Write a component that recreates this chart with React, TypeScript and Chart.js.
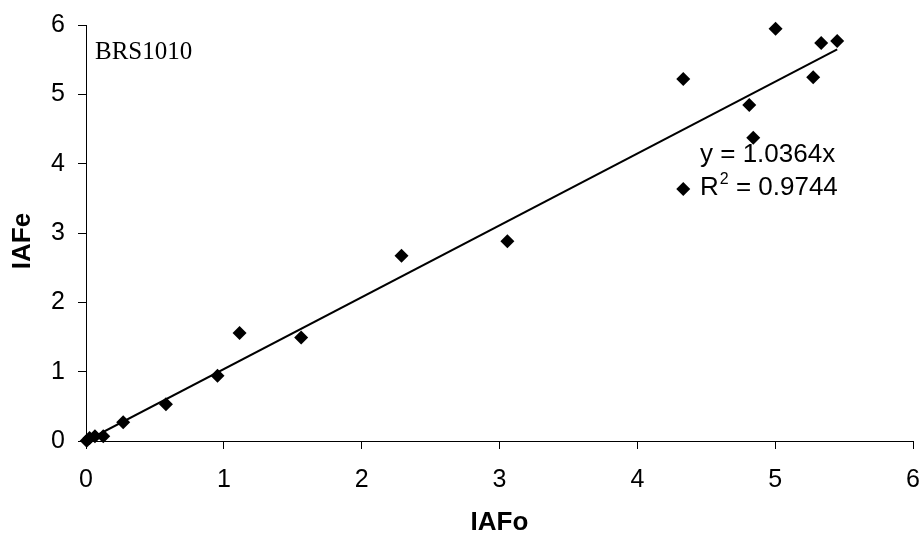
import React, { useEffect, useRef } from "react";
import { Chart, registerables } from "chart.js";

Chart.register(...registerables);

// Observed leaf area index (IAFo) vs estimated (IAFe)
const iafObserved = [0.005, 0.026, 0.065, 0.125, 0.27, 0.58, 0.954, 1.114, 1.561, 2.289, 3.057, 4.333, 4.333, 4.812, 4.841, 5.003, 5.276, 5.334, 5.45];
const iafEstimated = [0.005, 0.045, 0.07, 0.07, 0.27, 0.53, 0.94, 1.556, 1.494, 2.673, 2.88, 5.222, 3.633, 4.847, 4.374, 5.945, 5.246, 5.742, 5.77];

const trendSlope = 1.0364;
const trendR2 = "0.9744";
const trendEquation = "y = 1.0364x";
const seriesLabel = "BRS1010";
const xTitle = "IAFo";
const yTitle = "IAFe";
const axisMin = 0;
const axisMax = 6;

const SANS = "Arial, 'Liberation Sans', sans-serif";
const SERIF = "'Times New Roman', 'Liberation Serif', serif";

const annotations = {
  id: "annotations",
  afterDatasetsDraw(chart: any) {
    const ctx = chart.ctx as CanvasRenderingContext2D;
    ctx.save();
    ctx.fillStyle = "#000";
    ctx.textBaseline = "alphabetic";
    ctx.textAlign = "left";
    ctx.font = `25px ${SERIF}`;
    ctx.fillText(seriesLabel, 95, 59);

    ctx.font = `26px ${SANS}`;
    ctx.fillText(trendEquation, 700, 162);
    let x = 700;
    ctx.fillText("R", x, 195);
    x += ctx.measureText("R").width + 1;
    ctx.font = `16px ${SANS}`;
    ctx.fillText("2", x, 184);
    x += ctx.measureText("2").width;
    ctx.font = `26px ${SANS}`;
    ctx.fillText(" = " + trendR2, x, 195);

    // vertical axis title
    ctx.save();
    ctx.translate(23, 241);
    ctx.rotate(-Math.PI / 2);
    ctx.textAlign = "center";
    ctx.textBaseline = "middle";
    ctx.font = `bold 26px ${SANS}`;
    ctx.fillText(yTitle, 0, 0);
    ctx.restore();
    ctx.restore();
  },
};

export default function App() {
  const ref = useRef<HTMLCanvasElement | null>(null);
  useEffect(() => {
    if (!ref.current) return;
    const xMaxObs = Math.max(...iafObserved);
    const points = iafObserved.map((x, i) => ({ x, y: iafEstimated[i] }));
    const chart = new Chart(ref.current, {
      type: "scatter",
      data: {
        datasets: [
          {
            label: "trend",
            type: "line",
            data: [
              { x: 0, y: 0 },
              { x: xMaxObs, y: trendSlope * xMaxObs },
            ],
            borderColor: "#000",
            borderWidth: 2,
            pointRadius: 0,
            fill: false,
            order: 2,
          } as any,
          {
            label: seriesLabel,
            data: points,
            pointStyle: "rectRot",
            pointRadius: 7,
            backgroundColor: "#000",
            borderColor: "#000",
            borderWidth: 0,
            clip: false,
            order: 1,
          } as any,
        ],
      },
      options: {
        animation: false,
        responsive: false,
        devicePixelRatio: 1,
        layout: { padding: { top: 25, right: 10, left: 0, bottom: 0 } },
        plugins: { legend: { display: false }, tooltip: { enabled: false } },
        scales: {
          x: {
            type: "linear",
            min: axisMin,
            max: axisMax,
            afterFit: (s: any) => {
              s.height = 96;
              s.paddingLeft = 0;
              s.paddingRight = 0;
            },
            ticks: { stepSize: 1, color: "#000", padding: 16, font: { family: SANS, size: 25 } },
            grid: { display: true, drawOnChartArea: false, drawTicks: true, tickLength: 8, color: "#000", lineWidth: 1 },
            border: { display: true, color: "#000", width: 1 },
            title: {
              display: true,
              text: xTitle,
              color: "#000",
              font: { family: SANS, size: 26, weight: "bold", lineHeight: 1 },
              padding: { top: 0, bottom: 1 },
            },
          },
          y: {
            type: "linear",
            min: axisMin,
            max: axisMax,
            afterFit: (s: any) => {
              s.width = 86;
              s.paddingTop = 0;
              s.paddingBottom = 0;
            },
            ticks: { stepSize: 1, color: "#000", padding: 13, font: { family: SANS, size: 25 } },
            grid: { display: true, drawOnChartArea: false, drawTicks: true, tickLength: 8, color: "#000", lineWidth: 1 },
            border: { display: true, color: "#000", width: 1 },
            title: { display: false },
          },
        },
      },
      plugins: [annotations],
    });
    return () => chart.destroy();
  }, []);
  return (
    <div style={{ position: "fixed", left: 0, top: 0, width: 923, height: 537, background: "#fff" }}>
      <canvas ref={ref} width={923} height={537} />
    </div>
  );
}
